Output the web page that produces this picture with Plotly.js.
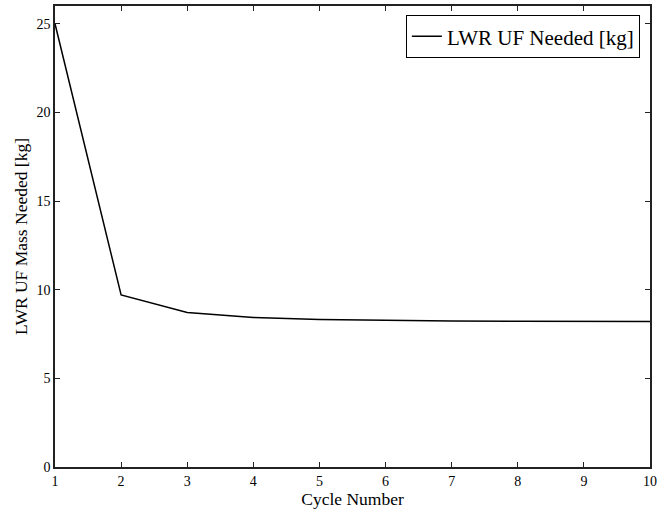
<!DOCTYPE html>
<html>
<head>
<meta charset="utf-8">
<script src="https://cdn.plot.ly/plotly-3.0.1.min.js"></script>
<style>html,body{margin:0;padding:0;background:#fff;}#chart{width:660px;height:510px;}</style>
</head>
<body>
<div id="chart"></div>
<script>
const cycles = [1, 2, 3, 4, 5, 6, 7, 8, 9, 10];
const ufNeeded = [25.0, 9.70, 8.72, 8.43, 8.32, 8.27, 8.24, 8.22, 8.21, 8.20];
const seriesName = "LWR UF Needed [kg]";
const xTitle = "Cycle Number";
const yTitle = "LWR UF Mass Needed [kg]";

const font = "'Liberation Serif', 'DejaVu Serif', serif";

Plotly.newPlot("chart", [{
  x: cycles, y: ufNeeded, type: "scatter", mode: "lines",
  name: seriesName, line: {color: "#000", width: 1.5}
}], {
  width: 660, height: 510,
  margin: {l: 55, r: 10, t: 6, b: 43},
  paper_bgcolor: "#fff", plot_bgcolor: "#fff",
  font: {family: font, size: 14, color: "#000"},
  showlegend: true,
  legend: {x: 0.983, y: 0.98, xanchor: "right", yanchor: "top",
    bordercolor: "#000", borderwidth: 1, bgcolor: "#fff",
    font: {family: font, size: 21, color: "#000"}},
  xaxis: {range: [1, 10], dtick: 1, tick0: 1, showgrid: false, zeroline: false,
    showline: true, linecolor: "#222", linewidth: 1.5, mirror: "ticks",
    ticks: "inside", ticklen: 5, tickcolor: "#222", tickwidth: 1,
    tickfont: {family: font, size: 14},
    title: {text: xTitle, font: {family: font, size: 17.5}, standoff: 2}},
  yaxis: {range: [0, 26], dtick: 5, showgrid: false, zeroline: false,
    showline: true, linecolor: "#222", linewidth: 1.5, mirror: "ticks",
    ticks: "inside", ticklen: 5, tickcolor: "#222", tickwidth: 1,
    tickfont: {family: font, size: 14},
    title: {text: yTitle, font: {family: font, size: 17.5}, standoff: 4}}
}, {displayModeBar: false});
</script>
</body>
</html>
